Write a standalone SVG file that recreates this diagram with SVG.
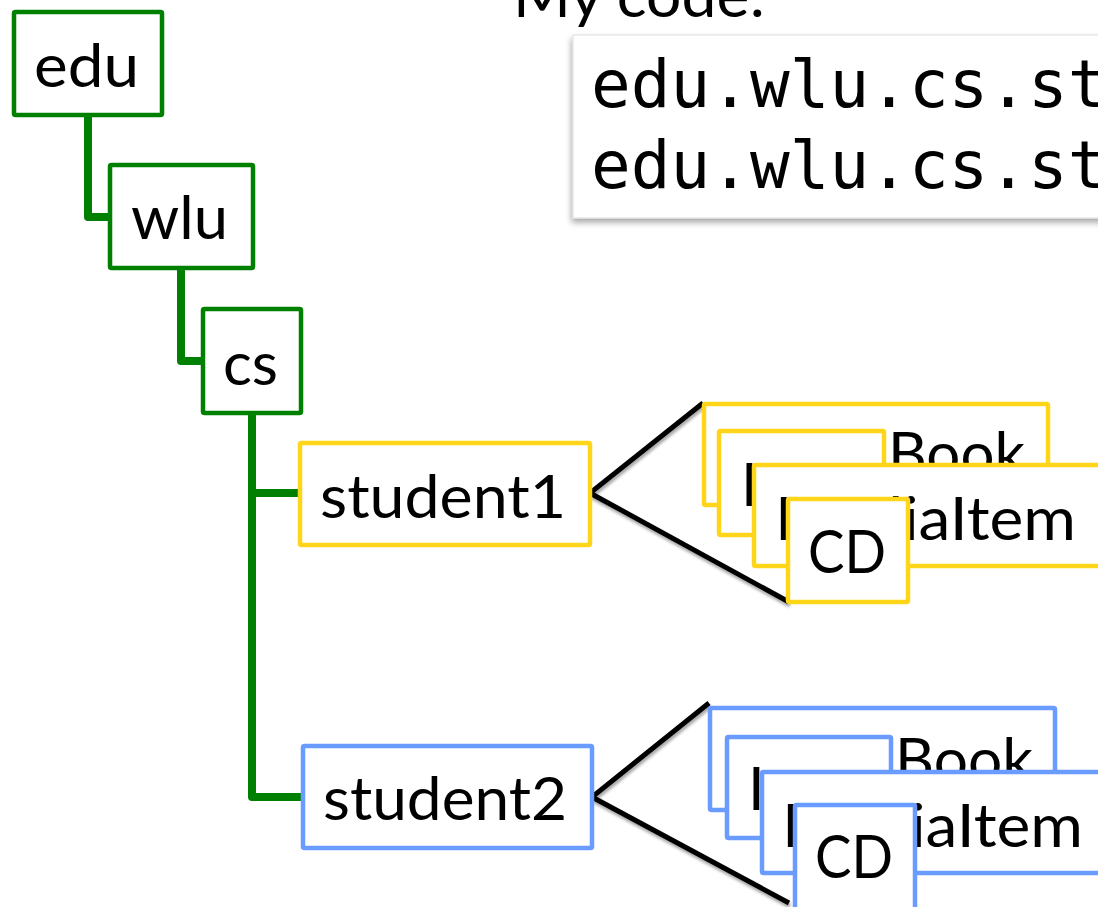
<svg xmlns="http://www.w3.org/2000/svg" width="1098" height="907" viewBox="0 0 1098 907">
  <defs>
    <filter id="boxShadow" x="-10%" y="-10%" width="130%" height="140%">
      <feGaussianBlur in="SourceAlpha" stdDeviation="3"/>
      <feOffset dx="-1" dy="4" result="blur"/>
      <feComponentTransfer><feFuncA type="linear" slope="0.35"/></feComponentTransfer>
      <feMerge><feMergeNode/><feMergeNode in="SourceGraphic"/></feMerge>
    </filter>
    <filter id="lineShadow" x="-10%" y="-10%" width="130%" height="130%">
      <feGaussianBlur in="SourceAlpha" stdDeviation="1.5"/>
      <feOffset dx="1" dy="3" result="blur"/>
      <feComponentTransfer><feFuncA type="linear" slope="0.35"/></feComponentTransfer>
      <feMerge><feMergeNode/><feMergeNode in="SourceGraphic"/></feMerge>
    </filter>
  </defs>
  <style>
    .lbl { font-family: Lato, "Open Sans", "Liberation Sans", sans-serif; font-size: 60px; fill: #000; }
    .code { font-family: "DejaVu Sans Mono", "Liberation Mono", monospace; font-size: 66px; fill: #000; }
    .box { fill: #fff; stroke-width: 4.5; }
    .pkg { stroke: #008000; }
    .s1 { stroke: #FFD51A; }
    .s2 { stroke: #6A9BFF; }
    .tree { fill: none; stroke: #008000; stroke-width: 8; stroke-linejoin: round; }
    .fan { fill: none; stroke: #000; stroke-width: 5; stroke-linejoin: miter; }
  </style>

  <rect width="1098" height="907" fill="#fff"/>

  <!-- heading and code listing -->
  <g id="code">
    <text class="lbl" x="513" y="17" textLength="252" lengthAdjust="spacingAndGlyphs">My code:</text>
    <rect x="573" y="35" width="600" height="183" fill="#fff" stroke="#dedede" stroke-width="1" filter="url(#boxShadow)"/>
    <text class="code" x="591" y="107">edu.wlu.cs.st</text>
    <text class="code" x="591" y="188">edu.wlu.cs.st</text>
  </g>

  <!-- connectors -->
  <g id="connectors">
    <path class="tree" d="M88,115 V217 H110"/>
    <path class="tree" d="M181,268 V361 H203"/>
    <path class="tree" d="M252,413 V797 H303 M252,493 H300"/>
    <path class="fan" filter="url(#lineShadow)" d="M703,403 L590,493 L789,602"/>
    <path class="fan" filter="url(#lineShadow)" d="M709,703 L592,797 L789,903"/>
  </g>

  <!-- package nodes -->
  <g id="edu">
    <rect class="box pkg" x="14" y="12" width="148" height="103" rx="1.5"/>
    <text class="lbl" x="34" y="87" textLength="105" lengthAdjust="spacingAndGlyphs">edu</text>
  </g>
  <g id="wlu">
    <rect class="box pkg" x="110" y="165" width="143" height="103" rx="1.5"/>
    <text class="lbl" x="131" y="239" textLength="97" lengthAdjust="spacingAndGlyphs">wlu</text>
  </g>
  <g id="cs">
    <rect class="box pkg" x="203" y="309" width="98" height="104" rx="1.5"/>
    <text class="lbl" x="223" y="385" textLength="55" lengthAdjust="spacingAndGlyphs">cs</text>
  </g>
  <g id="student1">
    <rect class="box s1" x="300" y="443" width="290" height="102" rx="1.5"/>
    <text class="lbl" x="320" y="518" textLength="246" lengthAdjust="spacingAndGlyphs">student1</text>
  </g>
  <g id="student2">
    <rect class="box s2" x="303" y="746" width="289" height="102" rx="1.5"/>
    <text class="lbl" x="323" y="820" textLength="244" lengthAdjust="spacingAndGlyphs">student2</text>
  </g>

  <!-- student1 classes -->
  <g id="s1-book">
    <rect class="box s1" x="704" y="404" width="344" height="101" rx="1.5"/>
    <text class="lbl" x="888" y="475" textLength="137" lengthAdjust="spacingAndGlyphs">Book</text>
  </g>
  <g id="s1-second">
    <rect class="box s1" x="719" y="431" width="165" height="104" rx="1.5"/>
    <text class="lbl" x="741" y="506">I</text>
  </g>
  <g id="s1-mediaitem">
    <rect class="box s1" x="754" y="465" width="400" height="101" rx="1.5"/>
    <text class="lbl" x="775" y="540" textLength="301" lengthAdjust="spacingAndGlyphs">MediaItem</text>
  </g>
  <g id="s1-cd">
    <rect class="box s1" x="788" y="499" width="120" height="103" rx="1.5"/>
    <text class="lbl" x="808" y="573" textLength="78" lengthAdjust="spacingAndGlyphs">CD</text>
  </g>

  <!-- student2 classes -->
  <g id="s2-book">
    <rect class="box s2" x="710" y="708" width="345" height="102" rx="1.5"/>
    <text class="lbl" x="895" y="781" textLength="138" lengthAdjust="spacingAndGlyphs">Book</text>
  </g>
  <g id="s2-second">
    <rect class="box s2" x="727" y="737" width="164" height="101" rx="1.5"/>
    <text class="lbl" x="748" y="810">I</text>
  </g>
  <g id="s2-mediaitem">
    <rect class="box s2" x="762" y="772" width="400" height="101" rx="1.5"/>
    <text class="lbl" x="782" y="847" textLength="301" lengthAdjust="spacingAndGlyphs">MediaItem</text>
  </g>
  <g id="s2-cd">
    <rect class="box s2" x="795" y="805" width="120" height="106" rx="1.5"/>
    <text class="lbl" x="815" y="878" textLength="78" lengthAdjust="spacingAndGlyphs">CD</text>
  </g>
</svg>
